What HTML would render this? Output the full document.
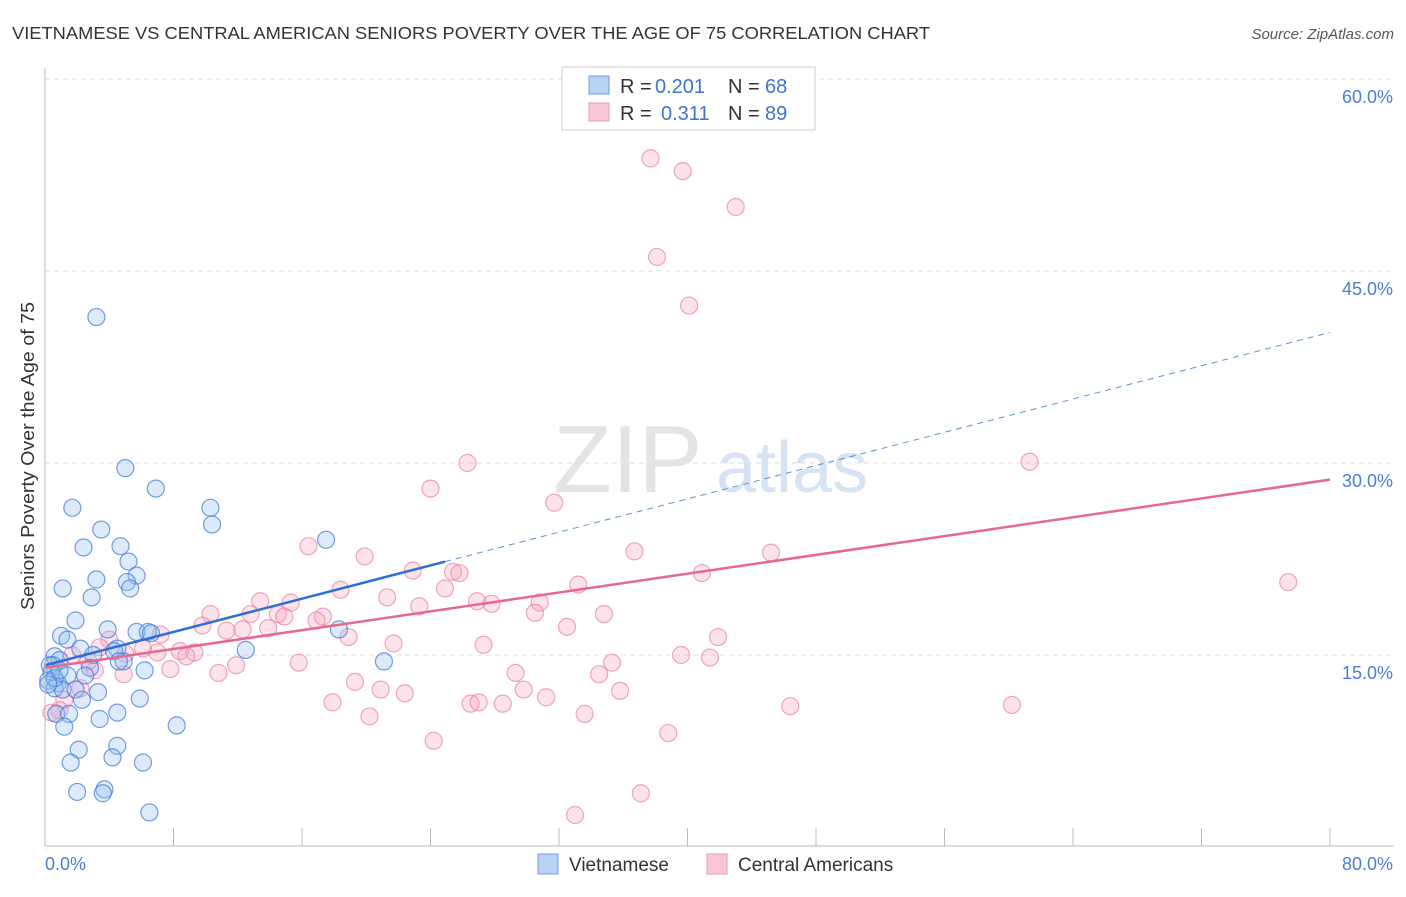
<!DOCTYPE html>
<html><head><meta charset="utf-8"><style>
body{margin:0;background:#fff;font-family:"Liberation Sans",sans-serif;}
svg text{font-family:"Liberation Sans",sans-serif;}
</style></head><body>
<svg id="chart" width="1406" height="892" viewBox="0 0 1406 892" xmlns="http://www.w3.org/2000/svg">
<text x="12" y="39" font-size="17.5" fill="#333" textLength="918" lengthAdjust="spacingAndGlyphs">VIETNAMESE VS CENTRAL AMERICAN SENIORS POVERTY OVER THE AGE OF 75 CORRELATION CHART</text>
<text x="1394" y="39" font-size="15" fill="#555" text-anchor="end" font-style="italic">Source: ZipAtlas.com</text>
<g id="grid"></g>
<g><text x="553" y="492" font-size="96" fill="#e4e4e4" font-family="Liberation Serif,serif">ZIP</text><text x="716" y="492" font-size="72" fill="#d6e3f3">atlas</text></g>
<g id="marks"></g>
<g id="axes"></g>
<text transform="translate(34,456) rotate(-90)" font-size="18" fill="#333" text-anchor="middle" textLength="308" lengthAdjust="spacingAndGlyphs">Seniors Poverty Over the Age of 75</text>
<g>
<rect x="562" y="67" width="253" height="63" fill="#fff" stroke="#ccc"/>
<rect x="589" y="76" width="20" height="18" fill="#b8d2f3" stroke="#6b9de0"/>
<rect x="589" y="103" width="20" height="18" fill="#f8c6d5" stroke="#ec9ab3"/>
<text x="620" y="93" font-size="20" fill="#333">R =</text>
<text x="655" y="93" font-size="20" fill="#3d74d4">0.201</text>
<text x="728" y="93" font-size="20" fill="#333">N =</text>
<text x="765" y="93" font-size="20" fill="#3d74d4">68</text>
<text x="620" y="120" font-size="20" fill="#333">R =</text>
<text x="661" y="120" font-size="20" fill="#3d74d4">0.311</text>
<text x="728" y="120" font-size="20" fill="#333">N =</text>
<text x="765" y="120" font-size="20" fill="#3d74d4">89</text>
</g>
<g>
<rect x="538" y="854" width="20" height="20" fill="#b8d2f3" stroke="#6b9de0"/>
<text x="569" y="871" font-size="19" fill="#333">Vietnamese</text>
<rect x="707" y="854" width="20" height="20" fill="#f8c6d5" stroke="#ec9ab3"/>
<text x="738" y="871" font-size="19" fill="#333">Central Americans</text>
</g>
</svg>
<script>
const yTicks=[15,30,45,60];
const yTickLabels=["15.0%","30.0%","45.0%","60.0%"];
const xTickLabels=["0.0%","80.0%"];
const viX=[3.2,5.0,6.9,10.3,10.4,1.7,3.5,2.4,4.7,5.2,5.7,3.2,5.1,5.3,1.1,2.9,17.5,1.9,3.9,1.0,1.4,5.7,6.4,6.6,18.3,12.5,4.5,4.3,2.2,3.0,4.9,4.6,0.6,0.9,0.5,6.2,2.8,0.4,1.4,2.5,0.2,0.8,0.6,1.1,1.9,3.3,5.9,2.3,0.7,1.5,3.4,4.5,8.2,1.2,4.5,2.1,4.2,1.6,6.1,2.0,3.7,3.6,6.5,21.1,0.3,0.6,0.2,0.9];
const viY=[41.4,29.6,28.0,26.5,25.2,26.5,24.8,23.4,23.5,22.3,21.2,20.9,20.7,20.2,20.2,19.5,24.0,17.7,17.0,16.5,16.2,16.8,16.8,16.7,17.0,15.4,15.5,15.3,15.5,15.0,14.5,14.5,14.9,14.6,14.2,13.8,14.0,13.7,13.4,13.4,13.0,12.8,12.4,12.3,12.3,12.1,11.6,11.5,10.4,10.4,10.0,10.5,9.5,9.4,7.9,7.6,7.0,6.6,6.6,4.3,4.5,4.2,2.7,14.5,14.2,13.2,12.7,13.8];
const caX=[37.7,39.7,43.0,38.1,40.1,26.3,61.3,24.0,31.7,16.4,19.9,36.7,45.2,22.9,25.4,25.8,33.2,40.9,24.9,77.4,18.4,21.3,13.4,15.3,23.3,26.9,27.8,30.8,10.3,12.8,14.5,14.9,17.3,16.9,30.5,34.8,9.8,11.3,12.3,13.9,32.5,18.9,7.2,41.9,27.3,21.7,7.0,8.4,9.3,8.8,4.0,6.1,5.0,15.8,11.9,7.8,10.8,29.3,35.3,34.5,19.3,20.9,35.8,22.4,29.8,31.2,17.9,26.5,27.0,28.5,46.4,60.2,20.2,33.6,24.2,38.8,33.0,37.1,41.4,39.6,4.9,3.1,2.2,2.7,1.2,0.9,0.4,3.4,1.7];
const caY=[53.8,52.8,50.0,46.1,42.3,30.0,30.1,28.0,26.9,23.5,22.7,23.1,23.0,21.6,21.5,21.4,20.5,21.4,20.2,20.7,20.1,19.5,19.2,19.1,18.8,19.2,19.0,19.1,18.2,18.2,18.2,18.0,18.0,17.7,18.3,18.2,17.3,16.9,17.0,17.1,17.2,16.4,16.6,16.4,15.8,15.9,15.2,15.3,15.2,14.9,16.2,15.5,15.1,14.4,14.2,13.9,13.6,13.6,14.4,13.5,12.9,12.3,12.2,12.0,12.3,11.7,11.3,11.2,11.3,11.2,11.0,11.1,10.2,10.4,8.3,8.9,2.5,4.2,14.8,15.0,13.5,13.8,12.4,14.5,11.5,10.7,10.5,15.6,15.0];
const viTrend=[14.2,40.2];
const caTrend=[14.0,28.7];
const viSolidEnd=24.9;

const X=v=>45+v/80*1285;
const Y=v=>847-v*12.8;
const NS="http://www.w3.org/2000/svg";
function mk(tag,attrs,parent){const e=document.createElementNS(NS,tag);for(const k in attrs)e.setAttribute(k,attrs[k]);parent.appendChild(e);return e;}
const grid=document.getElementById('grid'),axes=document.getElementById('axes'),marks=document.getElementById('marks');
yTicks.forEach((t,i)=>{
  const l=mk('line',{x1:45,x2:1394,y1:Y(t),y2:Y(t),stroke:'#ddd','stroke-dasharray':'5,4'},grid);
  
  
  const tx=mk('text',{x:1393,y:Y(t)+24,'font-size':18,fill:'#4a7fd4','text-anchor':'end'},axes);
  tx.textContent=yTickLabels[i];
  
  
});
mk('line',{x1:45,x2:45,y1:68,y2:846,stroke:'#bbb'},axes);
mk('line',{x1:45,x2:1394,y1:846,y2:846,stroke:'#bbb'},axes);
for(let i=0;i<=10;i++){mk('line',{x1:45+i*128.5,x2:45+i*128.5,y1:828,y2:846,stroke:'#bbb'},axes);}
const xl0=mk('text',{x:45,y:870,'font-size':18,fill:'#4a7fd4'},axes);xl0.textContent=xTickLabels[0];


const xl1=mk('text',{x:1393,y:870,'font-size':18,fill:'#4a7fd4','text-anchor':'end'},axes);xl1.textContent=xTickLabels[1];



caX.forEach((x,i)=>{const c=mk('circle',{cx:X(x),cy:Y(caY[i]),r:8.5,fill:'rgba(244,160,186,0.3)',stroke:'rgba(232,130,162,0.7)','stroke-width':1.2},marks);

});
viX.forEach((x,i)=>{const c=mk('circle',{cx:X(x),cy:Y(viY[i]),r:8.5,fill:'rgba(150,190,240,0.33)',stroke:'rgba(70,125,215,0.75)','stroke-width':1.2},marks);

});
const vAt=x=>viTrend[0]+(viTrend[1]-viTrend[0])*x/80;
const l1=mk('line',{x1:X(0),y1:Y(caTrend[0]),x2:X(80),y2:Y(caTrend[1]),stroke:'#e8678f','stroke-width':2.5},marks);


const l2=mk('line',{x1:X(0),y1:Y(vAt(0)),x2:X(viSolidEnd),y2:Y(vAt(viSolidEnd)),stroke:'#2e6fd6','stroke-width':2.5},marks);


const l3=mk('line',{x1:X(viSolidEnd),y1:Y(vAt(viSolidEnd)),x2:X(80),y2:Y(vAt(80)),stroke:'#5b8fe0','stroke-width':1,'stroke-dasharray':'6,5'},marks);


</script>
</body></html>
